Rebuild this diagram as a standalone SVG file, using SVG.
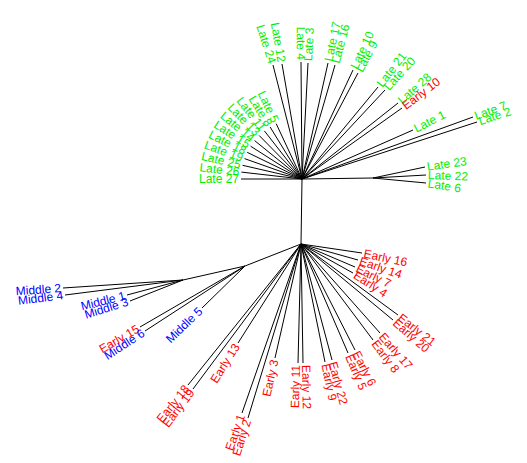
<svg xmlns="http://www.w3.org/2000/svg" width="527" height="463" viewBox="0 0 527 463">
<style>
text{font-family:"Liberation Sans",Arial,Helvetica,sans-serif;font-size:12px;dominant-baseline:central}
.s{text-anchor:start}
.e{text-anchor:end}
.g{fill:#00ee00}
.r{fill:#ff0000}
.b{fill:#0000ff}
#connectors path{stroke:#000;stroke-width:1;fill:none}
</style>
<rect width="527" height="463" fill="#fff"/>
<g id="connectors">
<path d="M302,179L301,244"/>
<path d="M302,179L282,64M302,179L273,65M302,179L301,62M302,179L308,63M302,179L328,63M302,179L335,65M302,179L353,70M302,179L358,73M302,179L378,87M302,179L385,90M302,179L398,103M302,179L402,108M302,179L413,130M302,179L473,117M302,179L477,122"/>
<path d="M302,179L373,178M373,178L425,167M373,178L426,175M373,178L426,183"/>
<path d="M302,179L241,179M302,179L241.4,172.1M302,179L242.6,165.3M302,179L244.5,158.6M302,179L247.2,152.3M302,179L250.6,146.2M302,179L254.6,140.6M302,179L259.2,135.5M302,179L264.4,130.9M302,179L270.1,127M302,179L276.2,123.7"/>
<path d="M301,244L362,253M301,244L358,260M301,244L355,267M301,244L353,273M301,244L398,315M301,244L393,320M301,244L380,333M301,244L373,340M301,244L355,350M301,244L348,353M301,244L332,360M301,244L325,362M301,244L303,363M301,244L298,363M301,244L275,358M301,244L242,413M301,244L248,418M301,244L238,343M301,244L188,385M301,244L193,389"/>
<path d="M301,244L245,266M245,266L183,280M183,280L63,288M183,280L65,295M183,280L127,295M183,280L130,301M245,266L140,327M245,266L145,331M245,266L202,308"/>
</g>
<g id="late12"><text class="g e" transform="translate(282,64) rotate(80)" x="-2">Late 12</text></g>
<g id="late24"><text class="g e" transform="translate(273,65) rotate(72)" x="-2">Late 24</text></g>
<g id="late4"><text class="g e" transform="translate(301,62) rotate(89.5)" x="-2">Late 4</text></g>
<g id="late3"><text class="g s" transform="translate(308,63) rotate(-87)" x="2">Late 3</text></g>
<g id="late17"><text class="g s" transform="translate(328,63) rotate(-78)" x="2">Late 17</text></g>
<g id="late16"><text class="g s" transform="translate(335,65) rotate(-75)" x="2">Late 16</text></g>
<g id="late10"><text class="g s" transform="translate(353,70) rotate(-65)" x="2">Late 10</text></g>
<g id="late9"><text class="g s" transform="translate(358,73) rotate(-62)" x="2">Late 9</text></g>
<g id="late21"><text class="g s" transform="translate(378,87) rotate(-52)" x="2">Late 21</text></g>
<g id="late20"><text class="g s" transform="translate(385,90) rotate(-48)" x="2">Late 20</text></g>
<g id="late28"><text class="g s" transform="translate(398,103) rotate(-41)" x="2">Late 28</text></g>
<g id="early10"><text class="r s" transform="translate(402,108) rotate(-37)" x="2">Early 10</text></g>
<g id="late1"><text class="g s" transform="translate(413,130) rotate(-27)" x="2">Late 1</text></g>
<g id="late7"><text class="g s" transform="translate(473,117) rotate(-20)" x="2">Late 7</text></g>
<g id="late2"><text class="g s" transform="translate(477,122) rotate(-18)" x="2">Late 2</text></g>
<g id="late23"><text class="g s" transform="translate(425,167) rotate(-8)" x="2">Late 23</text></g>
<g id="late22"><text class="g s" transform="translate(426,175) rotate(2)" x="2">Late 22</text></g>
<g id="late6"><text class="g s" transform="translate(426,183) rotate(9)" x="2">Late 6</text></g>
<g id="late27"><text class="g e" transform="translate(241,179) rotate(0)" x="-2">Late 27</text></g>
<g id="late26"><text class="g e" transform="translate(241.4,172.1) rotate(6.5)" x="-2">Late 26</text></g>
<g id="late25"><text class="g e" transform="translate(242.6,165.3) rotate(13)" x="-2">Late 25</text></g>
<g id="late19"><text class="g e" transform="translate(244.5,158.6) rotate(19.5)" x="-2">Late 19</text></g>
<g id="late18"><text class="g e" transform="translate(247.2,152.3) rotate(26)" x="-2">Late 18</text></g>
<g id="late15"><text class="g e" transform="translate(250.6,146.2) rotate(32.5)" x="-2">Late 15</text></g>
<g id="late14"><text class="g e" transform="translate(254.6,140.6) rotate(39)" x="-2">Late 14</text></g>
<g id="late13"><text class="g e" transform="translate(259.2,135.5) rotate(45.5)" x="-2">Late 13</text></g>
<g id="late11"><text class="g e" transform="translate(264.4,130.9) rotate(52)" x="-2">Late 11</text></g>
<g id="late8"><text class="g e" transform="translate(270.1,127) rotate(58.5)" x="-2">Late 8</text></g>
<g id="late5"><text class="g e" transform="translate(276.2,123.7) rotate(65)" x="-2">Late 5</text></g>
<g id="early16"><text class="r s" transform="translate(362,253) rotate(12)" x="2">Early 16</text></g>
<g id="early14"><text class="r s" transform="translate(358,260) rotate(19)" x="2">Early 14</text></g>
<g id="early7"><text class="r s" transform="translate(355,267) rotate(26)" x="2">Early 7</text></g>
<g id="early4"><text class="r s" transform="translate(353,273) rotate(33)" x="2">Early 4</text></g>
<g id="early21"><text class="r s" transform="translate(398,315) rotate(38)" x="2">Early 21</text></g>
<g id="early20"><text class="r s" transform="translate(393,320) rotate(41)" x="2">Early 20</text></g>
<g id="early17"><text class="r s" transform="translate(380,333) rotate(49)" x="2">Early 17</text></g>
<g id="early8"><text class="r s" transform="translate(373,340) rotate(53)" x="2">Early 8</text></g>
<g id="early6"><text class="r s" transform="translate(355,350) rotate(63)" x="2">Early 6</text></g>
<g id="early5"><text class="r s" transform="translate(348,353) rotate(67)" x="2">Early 5</text></g>
<g id="early22"><text class="r s" transform="translate(332,360) rotate(75)" x="2">Early 22</text></g>
<g id="early9"><text class="r s" transform="translate(325,362) rotate(78.5)" x="2">Early 9</text></g>
<g id="early12"><text class="r s" transform="translate(306,363) rotate(89)" x="2">Early 12</text></g>
<g id="early11"><text class="r e" transform="translate(296,363) rotate(-88.6)" x="-2">Early 11</text></g>
<g id="early3"><text class="r e" transform="translate(275,358) rotate(-77.2)" x="-2">Early 3</text></g>
<g id="early1"><text class="r e" transform="translate(242,413) rotate(-70.8)" x="-2">Early 1</text></g>
<g id="early2"><text class="r e" transform="translate(248,418) rotate(-72.5)" x="-2">Early 2</text></g>
<g id="early13"><text class="r e" transform="translate(238,343) rotate(-57.5)" x="-2">Early 13</text></g>
<g id="early18"><text class="r e" transform="translate(188,385) rotate(-51.3)" x="-2">Early 18</text></g>
<g id="early19"><text class="r e" transform="translate(193,389) rotate(-52.9)" x="-2">Early 19</text></g>
<g id="early15"><text class="r e" transform="translate(140,327) rotate(-30)" x="-2">Early 15</text></g>
<g id="middle6"><text class="b e" transform="translate(145,331) rotate(-33)" x="-2">Middle 6</text></g>
<g id="middle5"><text class="b e" transform="translate(202,308) rotate(-44)" x="-2">Middle 5</text></g>
<g id="middle1"><text class="b e" transform="translate(127,295) rotate(-14)" x="-2">Middle 1</text></g>
<g id="middle3"><text class="b e" transform="translate(130,301) rotate(-17)" x="-2">Middle 3</text></g>
<g id="middle2"><text class="b e" transform="translate(63,288) rotate(-4)" x="-2">Middle 2</text></g>
<g id="middle4"><text class="b e" transform="translate(65,295) rotate(-7)" x="-2">Middle 4</text></g>
</svg>
